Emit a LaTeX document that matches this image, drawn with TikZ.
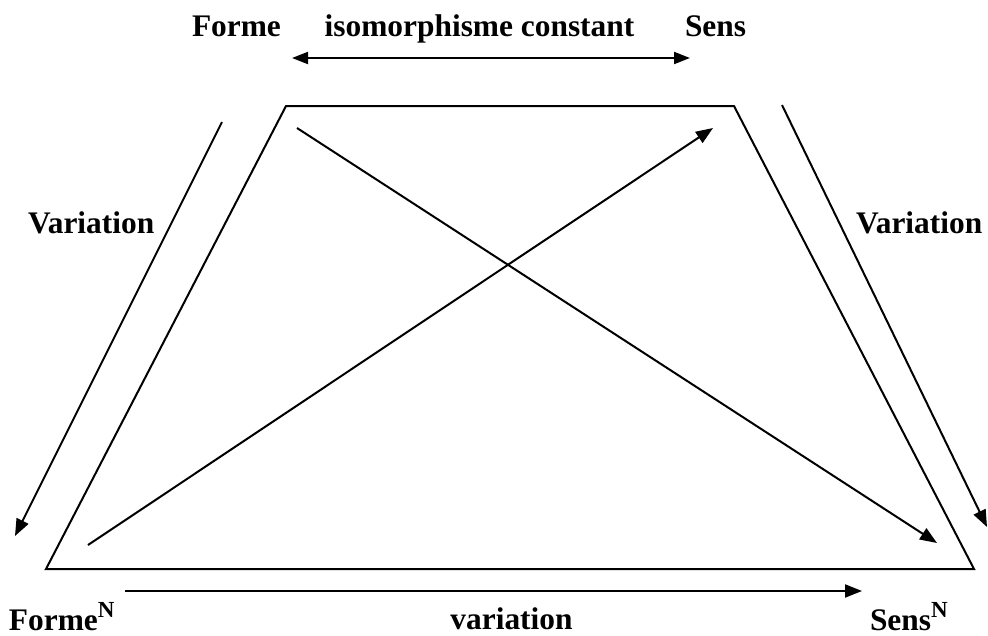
\documentclass[tikz,border=0pt]{standalone}
\usepackage{fontspec}
\setmainfont{Liberation Serif}
\usetikzlibrary{arrows.meta}
\newcommand{\supN}{\raisebox{12.8pt}{\fontsize{23}{23}\selectfont N}}
\begin{document}
\begin{tikzpicture}[x=1pt,y=-1pt,
  lbl/.style={inner sep=0pt,outer sep=0pt,anchor=base west,font=\fontsize{31.4}{36}\selectfont\bfseries},
  edge/.style={line width=2pt},
  arr/.style={line width=2pt,-{Triangle[length=17pt,width=13pt]}},
  darr/.style={line width=2pt,{Triangle[length=16pt,width=12pt]}-{Triangle[length=16pt,width=12pt]}}]
\useasboundingbox (0,0) rectangle (988,635);
% labels
\node[lbl] (forme) at (192,36) {Forme};
\node[lbl,anchor=base] (iso) at (479.5,36) {isomorphisme constant};
\node[lbl] (sens) at (685,36) {Sens};
\node[lbl] (varL) at (28,233) {Variation};
\node[lbl] (varR) at (856,233) {Variation};
\node[lbl] (formeN) at (9,630) {Forme\supN};
\node[lbl,anchor=base] (varB) at (511.5,629) {variation};
\node[lbl] (sensN) at (870,630) {Sens\supN};
% trapezoid corners
\coordinate (tl) at (286,106);
\coordinate (tr) at (734,106);
\coordinate (br) at (974,569);
\coordinate (bl) at (46,569);
\draw[edge,line join=miter] (tl) -- (tr) -- (br) -- (bl) -- cycle;
% arrow end points
\coordinate (topA) at (292,58);
\coordinate (topB) at (690,58);
\coordinate (leftA) at (222,122);
\coordinate (leftB) at (15,536);
\coordinate (rightA) at (782,105);
\coordinate (rightB) at (987,527);
\coordinate (d1A) at (297,128);
\coordinate (d1B) at (937,543);
\coordinate (d2A) at (88,545);
\coordinate (d2B) at (713,128);
\coordinate (botA) at (125,591);
\coordinate (botB) at (862,591);
\draw[darr] (topA) -- (topB);
\draw[arr] (leftA) -- (leftB);
\draw[arr] (rightA) -- (rightB);
\draw[arr] (d1A) -- (d1B);
\draw[arr] (d2A) -- (d2B);
\draw[arr] (botA) -- (botB);
\end{tikzpicture}
\end{document}
